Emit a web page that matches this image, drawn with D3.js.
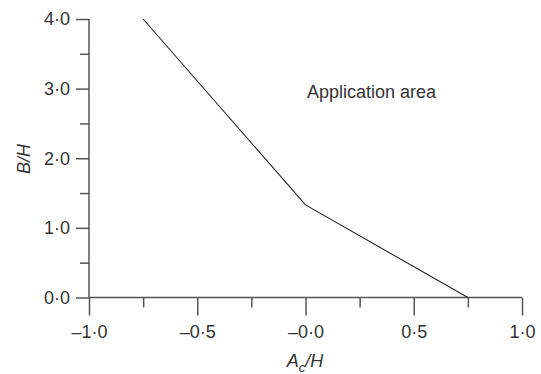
<!DOCTYPE html>
<html>
<head>
<meta charset="utf-8">
<script src="https://cdn.jsdelivr.net/npm/d3@7"></script>
<style>
html,body{margin:0;padding:0;background:#fff;}
svg{display:block;font-family:"Liberation Sans",Arial,sans-serif;}
svg text{font-family:"Liberation Sans",Arial,sans-serif;}
</style>
</head>
<body>
<svg id="chart" width="541" height="374"></svg>
<script>
// Data
const lineX = [-0.75, 0.0, 0.75];
const lineY = [4.0, 1.33, 0.0];
const xTickValues = [-1.0, -0.5, 0.0, 0.5, 1.0];
const xTickLabels = ["\u20131\u00b70", "\u20130\u00b75", "\u20130\u00b70", "0\u00b75", "1\u00b70"];
const xMinorTicks = [-0.75, -0.25, 0.25, 0.75];
const yTickValues = [0, 1, 2, 3, 4];
const yTickLabels = ["0\u00b70", "1\u00b70", "2\u00b70", "3\u00b70", "4\u00b70"];
const yMinorTicks = [0.5, 1.5, 2.5, 3.5];
const annotation = "Application area";

const svg = d3.select("#chart");
const x = d3.scaleLinear().domain([-1, 1]).range([89, 522]);
const y = d3.scaleLinear().domain([0, 4]).range([297.5, 19]);

const axisColor = "#555";
const textColor = "#333";
const fs = 18;

// Y axis
const gy = svg.append("g").attr("transform", `translate(${x(-1)},0)`)
  .call(d3.axisLeft(y).tickValues(yTickValues).tickFormat((d, i) => yTickLabels[i]).tickSize(13).tickPadding(6));
svg.append("g").attr("transform", `translate(${x(-1)},0)`)
  .call(d3.axisLeft(y).tickValues(yMinorTicks).tickFormat("").tickSize(9));

// X axis
const gx = svg.append("g").attr("transform", `translate(0,${y(0)})`)
  .call(d3.axisBottom(x).tickValues(xTickValues).tickFormat((d, i) => xTickLabels[i]).tickSize(18).tickPadding(10));
svg.append("g").attr("transform", `translate(0,${y(0)})`)
  .call(d3.axisBottom(x).tickValues(xMinorTicks).tickFormat("").tickSize(10));

[gx, gy].forEach(g => g.attr("font-size", null).attr("font-family", null).style("font-size", fs + "px"));

svg.selectAll("path.domain").remove();
svg.append("line").attr("x1", x(-1)).attr("x2", x(-1)).attr("y1", y(4)).attr("y2", y(0))
  .attr("stroke", axisColor).attr("stroke-width", 1.5);
svg.append("line").attr("x1", x(-1)).attr("x2", x(1)).attr("y1", y(0)).attr("y2", y(0))
  .attr("stroke", axisColor).attr("stroke-width", 1.5);

svg.selectAll(".tick line").attr("stroke", axisColor).attr("stroke-width", 1.5);
svg.selectAll(".tick text").attr("fill", textColor).style("font-size", fs + "px");

// Data line
const pts = lineX.map((d, i) => [d, lineY[i]]);
svg.append("path").datum(pts)
  .attr("d", d3.line().x(d => x(d[0])).y(d => y(d[1])))
  .attr("fill", "none").attr("stroke", "#222").attr("stroke-width", 1.1);

// Annotation
svg.append("text").attr("x", 307).attr("y", 98).text(annotation)
  .attr("fill", textColor).style("font-size", fs + "px");

// Axis labels
const xl = svg.append("text").attr("x", 305).attr("y", 367).attr("text-anchor", "middle")
  .attr("fill", textColor).style("font-size", fs + "px").attr("font-style", "italic");
xl.append("tspan").text("A");
xl.append("tspan").style("font-size", "13px").attr("dy", 5).text("c");
xl.append("tspan").attr("dy", -5).text("/H");

svg.append("text").attr("transform", "translate(30,159) rotate(-90)").attr("text-anchor", "middle")
  .attr("fill", textColor).style("font-size", fs + "px").attr("font-style", "italic").text("B/H");
</script>
</body>
</html>
